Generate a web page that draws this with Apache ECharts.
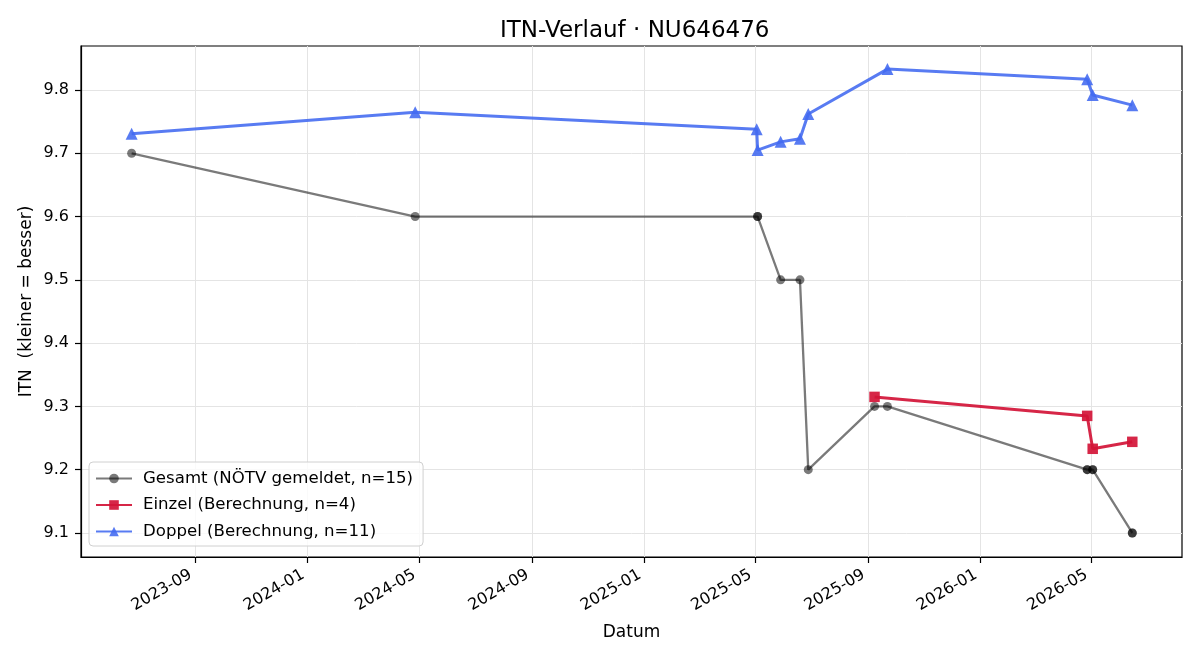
<!DOCTYPE html>
<html>
<head>
<meta charset="utf-8">
<script src="https://cdn.jsdelivr.net/npm/echarts@6/dist/echarts.min.js"></script>
<style>
  html, body { margin: 0; padding: 0; background: #fff; }
  #chart { width: 1200px; height: 660px; }
</style>
</head>
<body>
<div id="chart"></div>
<script>
// Gesamt (NÖTV gemeldet) - some dates carry two reports on top of each other
var gesamtDates = ['2023-06-24', '2024-04-27', '2025-05-04', '2025-05-04', '2025-05-29', '2025-06-19',
                   '2025-06-28', '2025-09-08', '2025-09-22', '2026-04-27', '2026-04-27', '2026-05-03',
                   '2026-05-03', '2026-06-15', '2026-06-15'];
var gesamtValues = [9.7, 9.6, 9.6, 9.6, 9.5, 9.5, 9.2, 9.3, 9.3, 9.2, 9.2, 9.2, 9.2, 9.1, 9.1];

var einzelDates = ['2025-09-08', '2026-04-27', '2026-05-03', '2026-06-15'];
var einzelValues = [9.315, 9.285, 9.233, 9.244];

var doppelDates = ['2023-06-24', '2024-04-27', '2025-05-03', '2025-05-04', '2025-05-29', '2025-06-19',
                   '2025-06-28', '2025-09-22', '2026-04-27', '2026-05-03', '2026-06-15'];
var doppelValues = [9.731, 9.765, 9.738, 9.705, 9.718, 9.723, 9.762, 9.833, 9.817, 9.792, 9.776];

var xTickLabels = ['2023-09', '2024-01', '2024-05', '2024-09', '2025-01', '2025-05', '2025-09', '2026-01', '2026-05'];
var yTickValues = [9.1, 9.2, 9.3, 9.4, 9.5, 9.6, 9.7, 9.8];

function ts(s) {
    var p = s.split('-');
    return Date.UTC(+p[0], +p[1] - 1, p[2] ? +p[2] : 1);
}
function pairs(dates, vals) {
    return dates.map(function (d, i) { return [ts(d), vals[i]]; });
}
var xTicks = xTickLabels.map(ts);

var myChart = echarts.init(document.getElementById('chart'));
var font = 'DejaVu Sans';
var option = {
    backgroundColor: '#fff',
    animation: false,
    textStyle: { fontFamily: font },
    title: {
        text: 'ITN-Verlauf · NU646476',
        left: 495,
        top: 15,
        textStyle: { fontFamily: font, fontSize: 23, fontWeight: 'normal', color: '#000' }
    },
    grid: {
        left: 81, right: 18, top: 46, bottom: 103,
        show: true, borderColor: '#000', borderWidth: 1.2
    },
    xAxis: {
        type: 'value',
        min: ts('2023-04-30'),
        max: ts('2026-08-08'),
        name: 'Datum',
        nameLocation: 'middle',
        nameGap: 67,
        nameMoveOverlap: false,
        nameTextStyle: { fontFamily: font, fontSize: 17, color: '#000' },
        axisLine: { show: true, lineStyle: { color: '#000', width: 1.2 } },
        axisTick: { show: true, length: 6, customValues: xTicks, lineStyle: { color: '#000', width: 1.2 } },
        axisLabel: {
            customValues: xTicks,
            rotate: 30,
            fontFamily: font, fontSize: 16, color: '#000', margin: 14,
            padding: [0, 5, 0, 0],
            formatter: function (v) {
                return xTickLabels[xTicks.indexOf(v)] || '';
            }
        },
        splitLine: { show: true, lineStyle: { color: '#e4e4e4', width: 1 } }
    },
    yAxis: {
        type: 'value',
        min: 9.062,
        max: 9.8695,
        name: 'ITN  (kleiner = besser)',
        nameLocation: 'middle',
        nameGap: 46,
        nameMoveOverlap: false,
        nameTextStyle: { fontFamily: font, fontSize: 17, color: '#000' },
        axisLine: { show: true, lineStyle: { color: '#000', width: 1.2 } },
        axisTick: { show: true, length: 6, customValues: yTickValues, lineStyle: { color: '#000', width: 1.2 } },
        axisLabel: {
            customValues: yTickValues,
            fontFamily: font, fontSize: 16, color: '#000', margin: 12,
            formatter: function (v) { return v.toFixed(1); }
        },
        splitLine: { show: true, lineStyle: { color: '#e4e4e4', width: 1 } }
    },
    legend: {
        orient: 'vertical',
        left: 89,
        top: 462,
        padding: [8, 10, 6, 6],
        itemGap: 9.5,
        itemWidth: 36,
        itemHeight: 12,
        borderColor: '#d0d0d0',
        borderWidth: 1,
        borderRadius: 4,
        backgroundColor: 'rgba(255,255,255,0.8)',
        textStyle: { fontFamily: font, fontSize: 16.6, color: '#000', padding: [0, 0, 0, 6] },
        data: ['Gesamt (NÖTV gemeldet, n=15)', 'Einzel (Berechnung, n=4)', 'Doppel (Berechnung, n=11)']
    },
    series: [
        {
            name: 'Gesamt (NÖTV gemeldet, n=15)',
            type: 'line',
            data: pairs(gesamtDates, gesamtValues),
            symbol: 'circle',
            symbolSize: 9,
            lineStyle: { color: 'rgba(0,0,0,0.52)', width: 2.3 },
            itemStyle: { color: 'rgba(0,0,0,0.52)' },
            z: 2
        },
        {
            name: 'Einzel (Berechnung, n=4)',
            type: 'line',
            data: pairs(einzelDates, einzelValues),
            symbol: 'rect',
            symbolSize: 10.5,
            lineStyle: { color: 'rgba(210,20,55,0.92)', width: 3 },
            itemStyle: { color: 'rgba(210,20,55,0.92)' },
            z: 3
        },
        {
            name: 'Doppel (Berechnung, n=11)',
            type: 'line',
            data: pairs(doppelDates, doppelValues),
            symbol: 'triangle',
            symbolSize: 12,
            lineStyle: { color: 'rgba(65,105,240,0.88)', width: 3 },
            itemStyle: { color: 'rgba(65,105,240,0.88)' },
            z: 4
        }
    ]
};
myChart.setOption(option);
</script>
</body>
</html>
